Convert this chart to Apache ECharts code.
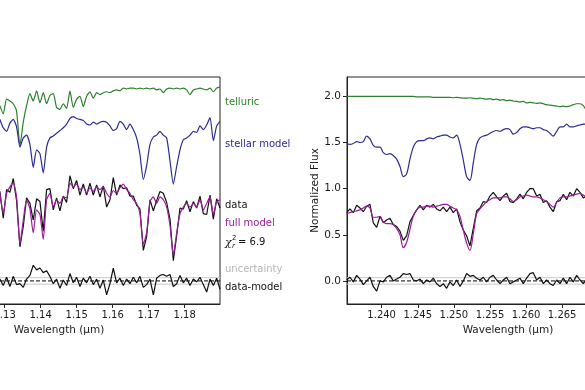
<!DOCTYPE html>
<html>
<head>
<meta charset="utf-8">
<script src="https://cdn.jsdelivr.net/npm/echarts@6/dist/echarts.min.js"></script>
<style>
html,body{margin:0;padding:0;background:#fff;overflow:hidden;width:585px;height:390px;}
#chart{position:absolute;left:-102px;top:0;width:800px;height:390px;}
</style>
</head>
<body>
<div id="chart"></div>
<script>
// ---------------- data: left panel (1.10 - 1.19 um) ----------------
const leftWave = [1.12869,1.12962,1.13055,1.13147,1.13240,1.13332,1.13425,1.13518,1.13610,1.13703,
1.13795,1.13888,1.13981,1.14073,1.14166,1.14258,1.14351,1.14443,1.14536,1.14629,
1.14721,1.14814,1.14906,1.14999,1.15092,1.15184,1.15277,1.15369,1.15462,1.15555,
1.15647,1.15740,1.15832,1.15925,1.16017,1.16110,1.16203,1.16295,1.16388,1.16480,
1.16573,1.16666,1.16758,1.16851,1.16943,1.17036,1.17129,1.17221,1.17314,1.17406,
1.17499,1.17592,1.17684,1.17777,1.17869,1.17962,1.18054,1.18147,1.18240,1.18332,
1.18425,1.18517,1.18610,1.18703,1.18795,1.18888,1.18980];
const leftTelluric = [1.90,1.81,1.97,1.95,1.92,1.84,1.47,1.72,1.90,2.03,
1.95,2.06,1.93,2.04,1.92,2.01,2.03,1.88,1.86,1.92,
1.87,2.06,1.88,1.97,2.00,1.89,2.00,2.05,1.98,2.04,
2.02,2.04,2.05,2.04,2.06,2.07,2.06,2.09,2.08,2.09,
2.09,2.08,2.09,2.08,2.09,2.08,2.09,2.07,2.08,2.04,
2.08,2.09,2.08,2.09,2.08,2.09,2.07,2.02,2.07,2.08,
2.09,2.08,2.07,2.09,2.05,2.09,2.10];
const leftStellar = [1.75,1.66,1.62,1.71,1.75,1.67,1.45,1.55,1.58,1.48,
1.23,1.42,1.38,1.17,1.45,1.55,1.57,1.60,1.63,1.66,
1.70,1.76,1.78,1.76,1.75,1.74,1.70,1.69,1.72,1.70,
1.72,1.73,1.72,1.68,1.63,1.65,1.73,1.70,1.64,1.70,
1.64,1.55,1.37,1.10,1.25,1.48,1.56,1.58,1.62,1.58,
1.55,1.30,1.05,1.24,1.42,1.53,1.55,1.58,1.62,1.61,
1.68,1.64,1.69,1.77,1.52,1.68,1.73];
const leftModel = [0.95,0.73,0.95,1.02,1.06,0.91,0.40,0.66,0.88,0.78,
0.52,0.77,0.72,0.45,0.88,0.95,0.80,0.88,0.84,0.91,
0.90,1.06,1.02,1.05,0.99,1.02,0.95,1.01,0.97,1.02,
0.99,1.02,0.95,0.91,0.98,0.95,1.01,1.05,0.99,0.95,
0.88,0.84,0.73,0.40,0.52,0.86,0.91,0.84,0.91,0.88,
0.80,0.60,0.28,0.52,0.73,0.80,0.84,0.80,0.84,0.80,
0.88,0.77,0.84,0.91,0.72,0.86,0.88];
const leftData = [0.97,0.68,0.99,0.96,1.11,0.87,0.37,0.59,0.90,0.84,
0.66,0.89,0.86,0.54,0.99,1.00,0.77,0.90,0.76,0.92,
0.85,1.14,1.00,1.09,0.93,1.05,0.93,1.06,0.93,1.04,
0.91,1.03,0.80,0.88,1.12,0.93,1.04,1.00,1.01,0.92,
0.92,0.82,0.78,0.33,0.48,0.88,0.76,0.87,0.97,0.95,
0.85,0.67,0.22,0.49,0.79,0.78,0.87,0.75,0.86,0.79,
0.92,0.73,0.72,0.93,0.67,0.89,0.79];
const leftResid = [0.02,-0.05,0.04,-0.06,0.05,-0.04,-0.03,-0.07,0.02,0.06,
0.17,0.12,0.14,0.09,0.11,0.05,-0.03,0.02,-0.08,0.01,
-0.05,0.08,-0.02,0.04,-0.06,0.03,-0.02,0.05,-0.04,0.02,
-0.08,0.01,-0.15,-0.03,0.14,-0.02,0.03,-0.05,0.02,-0.03,
0.04,-0.02,0.05,-0.07,-0.04,0.02,-0.15,0.03,0.06,0.07,
0.05,0.07,-0.06,-0.03,0.06,-0.02,0.03,-0.05,0.02,-0.01,
0.04,-0.04,-0.12,0.02,-0.05,0.03,-0.09];

// ---------------- data: right panel (1.235 - 1.28 um) ----------------
const rightWave = [1.23515,1.23561,1.23607,1.23654,1.23700,1.23746,1.23792,1.23838,1.23884,1.23931,
1.23977,1.24023,1.24069,1.24115,1.24161,1.24208,1.24254,1.24300,1.24346,1.24392,
1.24438,1.24485,1.24531,1.24577,1.24623,1.24669,1.24715,1.24762,1.24808,1.24854,
1.24900,1.24946,1.24992,1.25039,1.25085,1.25131,1.25177,1.25223,1.25269,1.25316,
1.25362,1.25408,1.25454,1.25500,1.25546,1.25593,1.25639,1.25685,1.25731,1.25777,
1.25823,1.25870,1.25916,1.25962,1.26008,1.26054,1.26100,1.26147,1.26193,1.26239,
1.26285,1.26331,1.26377,1.26424,1.26470,1.26516,1.26562,1.26608,1.26654,1.26701,
1.26747,1.26793,1.26839];
const rightTelluric = [2.00,2.00,2.00,2.00,2.00,2.00,2.00,2.00,2.00,2.00,
2.00,2.00,2.00,2.00,2.00,2.00,2.00,2.00,2.00,2.00,
2.00,1.995,1.995,1.995,1.995,1.995,1.99,1.99,1.99,1.99,
1.99,1.99,1.985,1.99,1.985,1.98,1.98,1.985,1.98,1.975,
1.98,1.975,1.97,1.975,1.965,1.97,1.96,1.965,1.955,1.96,
1.95,1.945,1.94,1.945,1.93,1.935,1.93,1.925,1.93,1.92,
1.91,1.905,1.90,1.895,1.89,1.895,1.89,1.895,1.91,1.92,
1.92,1.90,1.84];
const rightStellar = [1.49,1.48,1.49,1.51,1.50,1.51,1.57,1.54,1.47,1.45,
1.45,1.39,1.37,1.38,1.36,1.32,1.24,1.13,1.16,1.32,
1.45,1.51,1.52,1.52,1.54,1.55,1.54,1.56,1.57,1.58,
1.58,1.56,1.55,1.58,1.48,1.31,1.13,1.09,1.28,1.48,
1.55,1.57,1.58,1.60,1.62,1.63,1.62,1.64,1.65,1.64,
1.59,1.61,1.65,1.67,1.67,1.66,1.65,1.66,1.66,1.64,
1.63,1.60,1.57,1.62,1.67,1.67,1.70,1.67,1.67,1.68,
1.69,1.70,1.70];
const rightModel = [0.73,0.74,0.75,0.76,0.77,0.79,0.81,0.79,0.69,0.69,
0.70,0.64,0.62,0.62,0.61,0.57,0.50,0.36,0.42,0.56,
0.70,0.77,0.80,0.80,0.81,0.81,0.80,0.81,0.82,0.83,
0.83,0.81,0.79,0.77,0.70,0.55,0.41,0.33,0.51,0.73,
0.78,0.82,0.86,0.88,0.90,0.90,0.90,0.91,0.91,0.89,
0.86,0.88,0.91,0.92,0.93,0.92,0.91,0.91,0.90,0.88,
0.86,0.83,0.80,0.85,0.90,0.91,0.91,0.92,0.93,0.94,
0.95,0.93,0.90];
const rightData = [0.74,0.78,0.74,0.82,0.79,0.75,0.81,0.83,0.63,0.58,
0.70,0.63,0.66,0.68,0.61,0.59,0.54,0.44,0.49,0.64,
0.71,0.77,0.82,0.77,0.82,0.80,0.83,0.78,0.76,0.80,
0.75,0.80,0.74,0.78,0.64,0.55,0.49,0.38,0.57,0.76,
0.79,0.86,0.85,0.92,0.96,0.91,0.87,0.92,0.95,0.86,
0.85,0.89,0.94,0.89,0.96,1.00,1.00,0.92,0.94,0.85,
0.87,0.80,0.75,0.86,0.87,0.94,0.88,0.96,0.92,1.00,
0.96,0.90,0.92];
const rightResid = [0.01,0.04,-0.01,0.06,0.02,-0.04,0.00,0.04,-0.06,-0.11,
0.00,-0.01,0.04,0.06,0.00,0.02,0.04,0.08,0.07,0.08,
0.01,0.00,0.02,-0.03,0.01,-0.01,0.03,-0.03,-0.06,-0.03,
-0.08,-0.01,-0.05,0.01,-0.06,0.00,0.08,0.05,0.06,0.03,
0.01,0.04,-0.01,0.04,0.06,0.01,-0.03,0.01,0.04,-0.03,
-0.01,0.01,0.03,-0.03,0.03,0.08,0.09,0.01,0.04,-0.03,
0.01,-0.03,-0.05,0.01,-0.03,0.03,-0.03,0.04,-0.01,0.06,
0.01,-0.03,0.02];

// ---------------- axes ----------------
const leftRange = [1.1004, 1.1898];
const rightRange = [1.2352, 1.2798];
const yRange = [-0.25, 2.21];
const leftTicks = [1.11, 1.12, 1.13, 1.14, 1.15, 1.16, 1.17, 1.18];
const rightTicks = [1.240, 1.245, 1.250, 1.255, 1.260, 1.265, 1.270, 1.275];
const yTicks = [0.0, 0.5, 1.0, 1.5, 2.0];
const zeroLevel = 0;
const uncertaintyLevel = 0.035;
const chiSq = '6.9';

const C = {
  tell: '#2e7f2e', stel: '#2b2b95', model: '#981e98', data: '#111111',
  unc: '#c8c8c8', axis: '#222222', text: '#1a1a1a'
};
const FONT = 'DejaVu Sans';
const OFF = 102; // canvas is shifted left so the left panel's y axis sits off-screen

const pairs = (w, v) => w.map((x, i) => [x, v[i]]);
const flat = (r, v) => [[r[0], v], [r[1], v]];

function xAxisFor(idx, range, ticks, digits) {
  return {
    type: 'value', gridIndex: idx, min: range[0], max: range[1],
    name: 'Wavelength (μm)', nameLocation: 'middle', nameGap: 18,
    nameTextStyle: { fontFamily: FONT, fontSize: 10.5, color: C.text },
    axisLine: { show: true, onZero: false, lineStyle: { color: C.axis, width: 1 } },
    axisTick: { show: true, inside: false, length: 4, customValues: ticks, lineStyle: { color: C.axis } },
    axisLabel: { show: true, customValues: ticks, margin: 6, fontFamily: FONT, fontSize: 10, color: C.text,
      formatter: v => Number(v).toFixed(digits) },
    splitLine: { show: false }
  };
}
function yAxisFor(idx, showLabels) {
  return {
    type: 'value', gridIndex: idx, min: yRange[0], max: yRange[1],
    name: showLabels ? 'Normalized Flux' : '', nameLocation: 'middle', nameGap: 26, nameRotate: 90,
    nameTextStyle: { fontFamily: FONT, fontSize: 10.5, color: C.text },
    axisLine: { show: true, onZero: false, lineStyle: { color: C.axis, width: 1 } },
    axisTick: { show: showLabels, inside: false, length: 4, customValues: yTicks, lineStyle: { color: C.axis } },
    axisLabel: { show: showLabels, customValues: yTicks, margin: 6, fontFamily: FONT, fontSize: 10.5, color: C.text,
      formatter: v => Number(v).toFixed(1) },
    splitLine: { show: false }
  };
}
function line(idx, data, color, width, extra) {
  return Object.assign({
    type: 'line', xAxisIndex: idx, yAxisIndex: idx, data: data,
    showSymbol: false, symbol: 'none', animation: false, silent: true, clip: true,
    lineStyle: { color: color, width: width }
  }, extra || {});
}
function panelSeries(idx, wave, range, tell, stel, model, data, resid, sm) {
  return [
    line(idx, flat(range, uncertaintyLevel), C.unc, 1),
    line(idx, flat(range, -uncertaintyLevel), C.unc, 1),
    line(idx, flat(range, zeroLevel), '#000', 1, { lineStyle: { color: '#000', width: 1, type: [4, 2] } }),
    line(idx, pairs(wave, tell), C.tell, 1.2, { smooth: sm }),
    line(idx, pairs(wave, stel), C.stel, 1.2, { smooth: sm }),
    line(idx, pairs(wave, data), C.data, 1.2),
    line(idx, pairs(wave, model), C.model, 1.2, { smooth: sm }),
    line(idx, pairs(wave, resid), C.data, 1.2)
  ];
}

const chart = echarts.init(document.getElementById('chart'), null, { renderer: 'canvas' });
const txt = (x, y, text, color, size, extra) => ({
  type: 'text', x: x + OFF, y: y, silent: true,
  style: Object.assign({ text: text, fill: color, fontFamily: FONT, fontSize: size || 10, verticalAlign: 'middle', align: 'left' }, extra || {})
});

chart.setOption({
  animation: false,
  backgroundColor: '#ffffff',
  grid: [
    { left: 0, top: 77, width: 322, height: 227, show: true, borderColor: C.axis, borderWidth: 1, backgroundColor: 'transparent' },
    { left: 347 + OFF, top: 77, width: 322, height: 227, show: true, borderColor: C.axis, borderWidth: 1, backgroundColor: 'transparent' }
  ],
  xAxis: [xAxisFor(0, leftRange, leftTicks, 2), xAxisFor(1, rightRange, rightTicks, 3)],
  yAxis: [yAxisFor(0, false), yAxisFor(1, true)],
  series: [].concat(
    panelSeries(0, leftWave, leftRange, leftTelluric, leftStellar, leftModel, leftData, leftResid, 0.2),
    panelSeries(1, rightWave, rightRange, rightTelluric, rightStellar, rightModel, rightData, rightResid, 0.3)
  ),
  graphic: [
    txt(225, 102, 'telluric', C.tell),
    txt(225, 144, 'stellar model', C.stel),
    txt(225, 205, 'data', C.data),
    txt(225, 223, 'full model', C.model),
    txt(225, 243, 'χ', C.data, 11, { fontStyle: 'italic', fontFamily: 'DejaVu Serif' }),
    txt(232, 238, '2', C.data, 7),
    txt(232, 246, 'r', C.data, 7, { fontStyle: 'italic' }),
    txt(238, 242, '= ' + chiSq, C.data),
    txt(225, 269, 'uncertainty', '#b8b8b8'),
    txt(225, 287, 'data-model', C.data)
  ]
});
</script>
</body>
</html>
